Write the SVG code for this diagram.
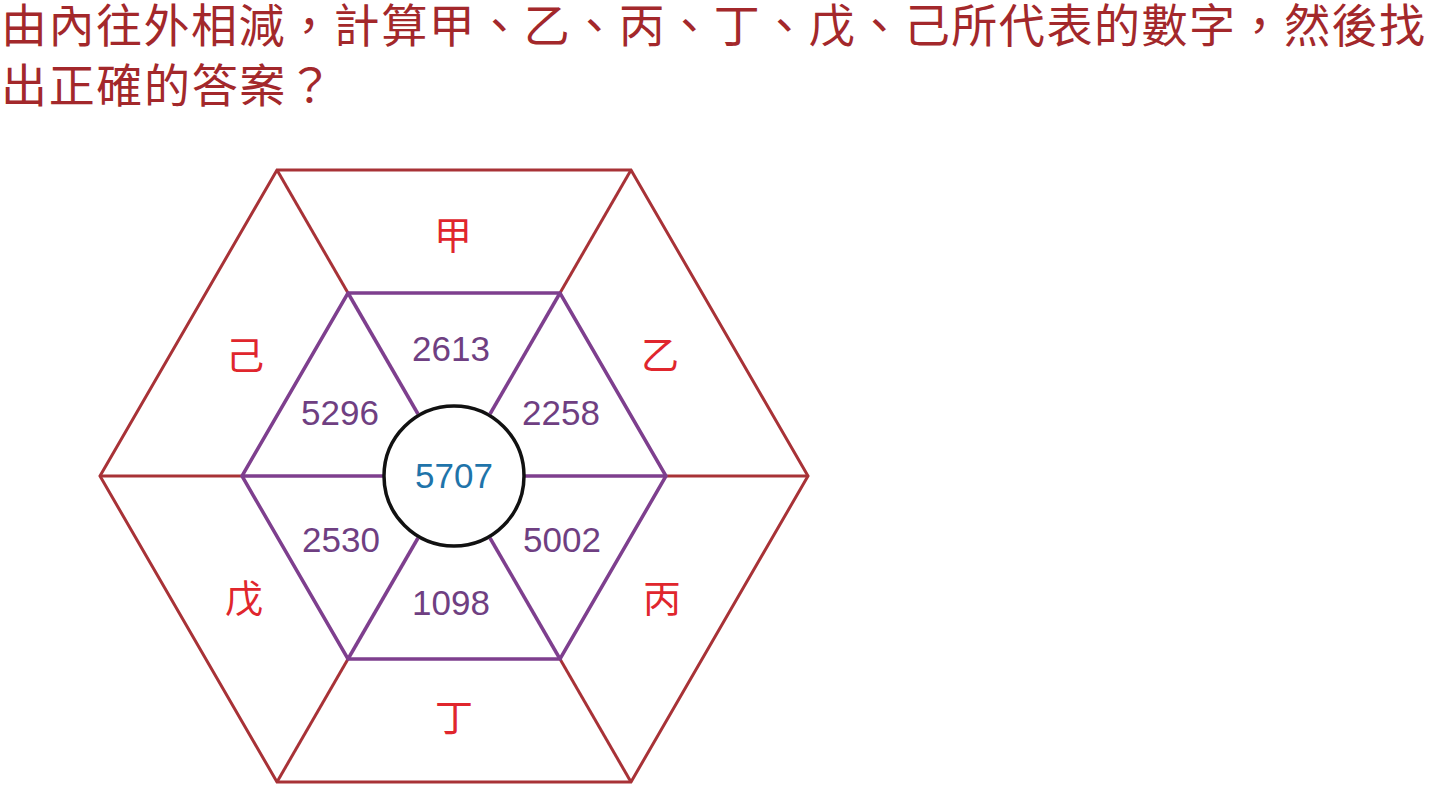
<svg xmlns="http://www.w3.org/2000/svg" width="1432" height="786" viewBox="0 0 1432 786">
<style>
.title{font-family:"Noto Sans CJK TC","Noto Sans CJK SC",sans-serif;font-size:46px;fill:#a3282b}
.lab{font-family:"Noto Sans CJK TC","Noto Sans CJK SC",sans-serif;font-size:38px;fill:#e0262d;text-anchor:middle}
.num{font-family:"Liberation Sans",Arial,sans-serif;font-size:35px;fill:#6f3f82;text-anchor:middle}
.outer{fill:none;stroke:#a83237;stroke-width:3;stroke-linejoin:miter}
.inner{fill:none;stroke:#7e3f8e;stroke-width:3.5}
</style>
<rect width="1432" height="786" fill="#fff"/>
<g id="title">
<text class="title" x="1" y="42" textLength="1424" lengthAdjust="spacing">由內往外相減，計算甲、乙、丙、丁、戊、己所代表的數字，然後找</text>
<text class="title" x="1" y="102" textLength="332" lengthAdjust="spacing">出正確的答案？</text>
</g>
<g id="connectors">
<polygon class="outer" points="277,170 631,170 808,476 631,782 277,782 100,476"/>
<line class="outer" x1="277" y1="170" x2="348" y2="293"/>
<line class="outer" x1="631" y1="170" x2="560" y2="293"/>
<line class="outer" x1="808" y1="476" x2="666" y2="476"/>
<line class="outer" x1="631" y1="782" x2="560" y2="659"/>
<line class="outer" x1="277" y1="782" x2="348" y2="659"/>
<line class="outer" x1="100" y1="476" x2="242" y2="476"/>
<polygon class="inner" points="348,293 560,293 666,476 560,659 348,659 242,476"/>
<line class="inner" x1="348" y1="293" x2="418" y2="414"/>
<line class="inner" x1="560" y1="293" x2="490" y2="414"/>
<line class="inner" x1="666" y1="476" x2="525" y2="476"/>
<line class="inner" x1="560" y1="659" x2="490" y2="538"/>
<line class="inner" x1="348" y1="659" x2="418" y2="538"/>
<line class="inner" x1="242" y1="476" x2="383" y2="476"/>
</g>
<g id="center">
<circle cx="454" cy="476" r="70" fill="#fff" stroke="#111" stroke-width="3.5"/>
<text class="num" x="454" y="488" style="fill:#1f74aa">5707</text>
</g>
<g id="n2613"><text class="num" x="451" y="361">2613</text></g>
<g id="n2258"><text class="num" x="561" y="425">2258</text></g>
<g id="n5002"><text class="num" x="562" y="552">5002</text></g>
<g id="n1098"><text class="num" x="451" y="615">1098</text></g>
<g id="n2530"><text class="num" x="341" y="552">2530</text></g>
<g id="n5296"><text class="num" x="340" y="425">5296</text></g>
<g id="jia"><text class="lab" x="453" y="249">甲</text></g>
<g id="yi"><text class="lab" x="660" y="369">乙</text></g>
<g id="bing"><text class="lab" x="662" y="612">丙</text></g>
<g id="ding"><text class="lab" x="454" y="731">丁</text></g>
<g id="wu"><text class="lab" x="244" y="612">戊</text></g>
<g id="ji"><text class="lab" x="245" y="369">己</text></g>
</svg>
